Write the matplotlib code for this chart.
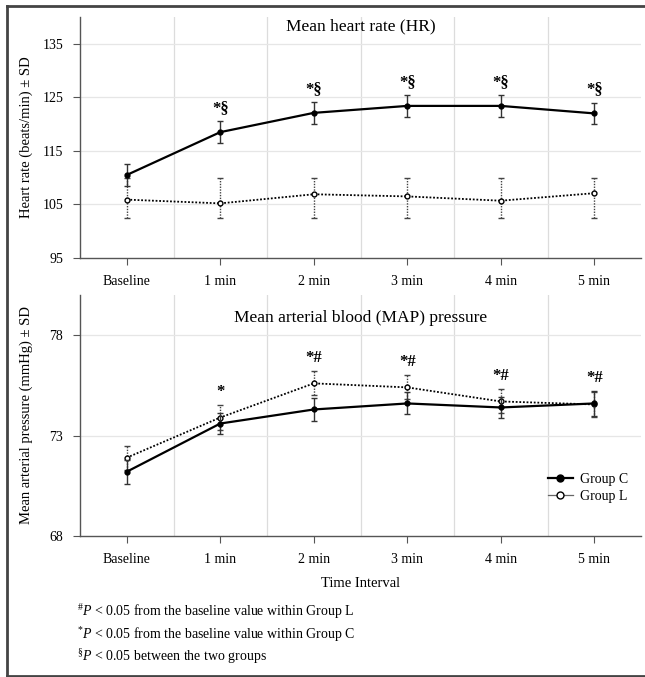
import numpy as np
import matplotlib.pyplot as plt
from matplotlib.lines import Line2D

plt.rcParams['font.family'] = ['Liberation Serif', 'DejaVu Serif']
plt.rcParams['mathtext.fontset'] = 'custom'
plt.rcParams['mathtext.rm'] = 'Liberation Serif'
plt.rcParams['mathtext.it'] = 'Liberation Serif:italic'

times = ['Baseline', '1 min', '2 min', '3 min', '4 min', '5 min']

# heart rate
hr_c = [110.5, 118.5, 122.1, 123.4, 123.4, 122.0]
hr_c_sd = [2.0, 2.0, 2.0, 2.0, 2.0, 2.0]
hr_l = [105.9, 105.2, 106.9, 106.5, 105.7, 107.1]
hr_l_lo = [102.5, 102.5, 102.5, 102.5, 102.5, 102.5]
hr_l_hi = [110.0, 110.0, 110.0, 110.0, 110.0, 110.0]
hr_marks = ['', '*§', '*§', '*§', '*§', '*§']

# mean arterial pressure
map_c = [71.2, 73.6, 74.3, 74.6, 74.4, 74.6]
map_c_sd = [0.6, 0.5, 0.55, 0.55, 0.5, 0.6]
map_l = [71.9, 73.9, 75.6, 75.4, 74.7, 74.55]
map_l_sd = [0.6, 0.6, 0.6, 0.6, 0.6, 0.6]
map_marks = ['', '*', '*#', '*#', '*#', '*#']

footnotes = [r'$^{\#}\mathit{P}$ < 0.05 from the baseline value within Group L',
             r'$^{*}\mathit{P}$ < 0.05 from the baseline value within Group C',
             r'$^{\S}\mathit{P}$ < 0.05 between the two groups']

x = np.arange(len(times))
W, H = 645, 677
fig = plt.figure(figsize=(W/100, H/100), dpi=100)

def add_ax(top_px, bot_px):
    return fig.add_axes([80/W, 1-bot_px/H, 561/W, (bot_px-top_px)/H])

ax1 = add_ax(17, 258)
ax2 = add_ax(295, 536)

def style(ax, ylim, yticks, ylabel):
    ax.set_xlim(-0.5, 5.5)
    ax.set_ylim(*ylim)
    ax.set_yticks(yticks)
    ax.set_xticks(x)
    ax.set_xticklabels(times)
    for v in np.arange(0.5, 5, 1):
        ax.axvline(v, color='#dcdcdc', lw=0.9, zorder=0)
    for v in yticks[1:]:
        ax.axhline(v, color='#e6e6e6', lw=0.9, zorder=0)
    for s in ['top', 'right']:
        ax.spines[s].set_visible(False)
    for s in ['left', 'bottom']:
        ax.spines[s].set_color('#555555')
        ax.spines[s].set_linewidth(1.0)
    ax.tick_params(axis='both', length=5, color='#555555', labelsize=10, pad=7)
    ax.set_ylabel(ylabel, fontsize=10.5)
    ax.yaxis.set_label_coords(-0.083, 0.5)

def draw(ax, c, c_err, l, l_err):
    e1 = ax.errorbar(x, c, yerr=c_err, color='black', lw=1.6, marker='o', ms=3.5,
                     ecolor='#333333', elinewidth=1.0, capsize=2.5, zorder=3)
    e2 = ax.errorbar(x, l, yerr=l_err, color='black', lw=1.3, ls=(0, (1, 1)), marker='o',
                     ms=3.5, mfc='white', ecolor='#444444', elinewidth=1.0, capsize=2, zorder=2)
    e2[2][0].set_linestyle((0, (1, 1)))
    return e1, e2

style(ax1, (95, 140), [95, 105, 115, 125, 135], 'Heart rate (beats/min) ± SD')
draw(ax1, hr_c, hr_c_sd, hr_l, [np.subtract(hr_l, hr_l_lo), np.subtract(hr_l_hi, hr_l)])
for i, m in enumerate(hr_marks):
    if m:
        ax1.text(x[i], hr_c[i] + hr_c_sd[i] + 1.0, m, ha='center', va='bottom',
                 fontsize=12, fontweight='bold')
ax1.text(0.5, 0.963, 'Mean heart rate (HR)', transform=ax1.transAxes,
         ha='center', va='center', fontsize=12.5)

style(ax2, (68, 80), [68, 73, 78], 'Mean arterial pressure (mmHg) ± SD')
draw(ax2, map_c, map_c_sd, map_l, map_l_sd)
for i, m in enumerate(map_marks):
    if m:
        top = max(map_c[i] + map_c_sd[i], map_l[i] + map_l_sd[i])
        ax2.text(x[i], top + 0.25, m, ha='center', va='bottom',
                 fontsize=12, fontweight='bold')
ax2.text(0.5, 0.905, 'Mean arterial blood (MAP) pressure', transform=ax2.transAxes,
         ha='center', va='center', fontsize=12.5)
ax2.set_xlabel('Time Interval', fontsize=10.5, labelpad=8)

hc = Line2D([], [], color='black', lw=1.6, marker='o', ms=5)
hl = Line2D([], [], color='#666666', lw=0.9, marker='o', ms=5, mfc='white', mec='black')
ax2.legend([hc, hl], ['Group C', 'Group L'], loc='center', bbox_to_anchor=(0.905, 0.2),
           frameon=False, fontsize=10, handlelength=1.8, labelspacing=0.3,
           handletextpad=0.5)

for k, t in enumerate(footnotes):
    fig.text(77/W, 1 - (612 + 22.5*k)/H, t, fontsize=10, va='center', ha='left')

# outer frame
fc = '#444444'
fig.add_artist(Line2D([7/W, 7/W], [1-6/H, 1-676/H], color=fc, lw=2))
fig.add_artist(Line2D([7/W, 1], [1-6/H, 1-6/H], color=fc, lw=2))
fig.add_artist(Line2D([7/W, 1], [1-676/H, 1-676/H], color=fc, lw=2))

fig.savefig('out.png', dpi=100)
